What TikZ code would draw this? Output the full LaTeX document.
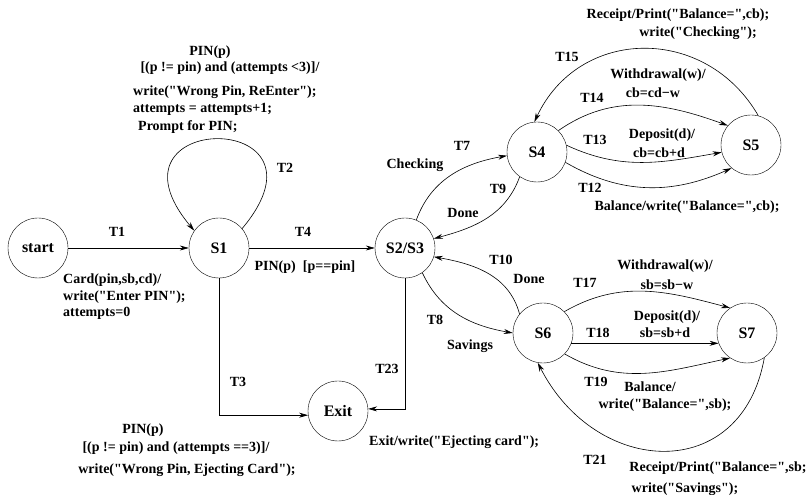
\documentclass[tikz,border=0pt]{standalone}
\usepackage{fontspec}
\setmainfont{Liberation Serif}[Ligatures=TeXOff]
\usetikzlibrary{arrows.meta}

\begin{document}
\begin{tikzpicture}[x=1pt,y=1pt,
	state/.style={draw,circle,minimum size=60pt,inner sep=0pt,font=\fontsize{16}{18}\selectfont\bfseries},
	lbl/.style={inner sep=0pt,font=\fontsize{14}{16.5}\selectfont\bfseries},
	trans/.style={line width=0.6pt,-{Stealth[length=9pt,width=5pt]}}]
	\useasboundingbox (0,0) rectangle (811,495);

	\node[state] (start) at (38,247) {start};
	\node[state] (S1) at (219,247) {S1};
	\node[state] (S23) at (405,247) {S2/S3};
	\node[state] (S4) at (537,343) {S4};
	\node[state] (S5) at (751,350) {S5};
	\node[state] (S6) at (543,162) {S6};
	\node[state] (S7) at (747,162) {S7};
	\node[state] (Exit) at (338,84) {Exit};

	\draw[trans] (start) -- (S1);
	\draw[trans] (S1.40) to[out=50,in=130,looseness=8.4] (S1.145);
	\draw[trans] (S1) -- (S23);
	\draw[trans] (S1) |- (Exit.188);
	\draw[trans] (S23) |- (Exit.4);

	\draw[trans] (S23.68) to[out=70,in=190] (S4.187);
	\draw[trans] (S4.235) to[out=250,in=15] (S23.18);
	\draw[trans] (S4.45) to[out=35,in=160] (S5.140);
	\draw[trans] (S4.13) to[out=-25,in=190] (S5.194);
	\draw[trans] (S4.-20) to[out=-30,in=204] (S5.230);
	\draw[trans] (S5.76) to[out=120,in=65,looseness=1.2] (S4.95);

	\draw[trans] (S6.141) to[out=105,in=-10] (S23.-17);
	\draw[trans] (S23.-55) to[out=-65,in=170] (S6.180);
	\draw[trans] (S6.45) to[out=30,in=165] (S7.124);
	\draw[trans] (S6.-20) -- (S7.200);
	\draw[trans] (S6.-44) to[out=-30,in=192] (S7.236);
	\draw[trans] (S7.-55) to[out=-100,in=-63,looseness=1.45] (S6.260);

	% start / S1 / exit labels
	\node[lbl] (t1) at (117,263) {T1};
	\node[lbl,anchor=west,align=left] (t1txt) at (63,198) {Card(pin,sb,cd)/\\write("Enter PIN");\\attempts=0};
	\node[lbl] (t2) at (285,327) {T2};
	\node[lbl] (t2a) at (210,443) {PIN(p)};
	\node[lbl] (t2b) at (230,427) {[(p != pin) and (attempts <3)]/};
	\node[lbl,anchor=west] (t2c) at (133,403) {write("Wrong Pin, ReEnter");};
	\node[lbl,anchor=west] (t2d) at (133,386) {attempts = attempts+1;};
	\node[lbl,anchor=west] (t2e) at (138,368) {Prompt for PIN;};
	\node[lbl] (t4) at (303,263) {T4};
	\node[lbl] (t4txt) at (305,228) {PIN(p)\ \ [p==pin]};
	\node[lbl] (t3) at (238,113) {T3};
	\node[lbl] (t3a) at (143,65) {PIN(p)};
	\node[lbl] (t3b) at (176,47) {[(p != pin) and (attempts ==3)]/};
	\node[lbl] (t3c) at (187,25) {write("Wrong Pin, Ejecting Card");};
	\node[lbl] (t23) at (387,126) {T23};
	\node[lbl,anchor=west] (exittxt) at (369,53) {Exit/write("Ejecting card");};

	% checking side
	\node[lbl] (t7) at (462,349) {T7};
	\node[lbl] (t7txt) at (415,330) {Checking};
	\node[lbl] (t9) at (498,306) {T9};
	\node[lbl] (t9txt) at (463,282) {Done};
	\node[lbl] (t14) at (592,397) {T14};
	\node[lbl] (t14a) at (658,420) {Withdrawal(w)/};
	\node[lbl] (t14b) at (653,402) {cb=cd−w};
	\node[lbl] (t13) at (595,355) {T13};
	\node[lbl] (t13a) at (662,360) {Deposit(d)/};
	\node[lbl] (t13b) at (659,342) {cb=cb+d};
	\node[lbl] (t12) at (590,307) {T12};
	\node[lbl] (t12txt) at (687,288) {Balance/write("Balance=",cb);};
	\node[lbl] (t15) at (567,438) {T15};
	\node[lbl] (t15a) at (678,480) {Receipt/Print("Balance=",cb);};
	\node[lbl] (t15b) at (698,462) {write("Checking");};

	% savings side
	\node[lbl] (t10) at (501,235) {T10};
	\node[lbl] (t10txt) at (529,216) {Done};
	\node[lbl] (t8) at (435,175) {T8};
	\node[lbl] (t8txt) at (470,149) {Savings};
	\node[lbl] (t17) at (585,212) {T17};
	\node[lbl] (t17a) at (665,229) {Withdrawal(w)/};
	\node[lbl] (t17b) at (667,210) {sb=sb−w};
	\node[lbl] (t18) at (598,162) {T18};
	\node[lbl] (t18a) at (667,178) {Deposit(d)/};
	\node[lbl] (t18b) at (665,162) {sb=sb+d};
	\node[lbl] (t19) at (596,113) {T19};
	\node[lbl] (t19a) at (650,108) {Balance/};
	\node[lbl] (t19b) at (665,90) {write("Balance=",sb);};
	\node[lbl] (t21) at (595,35) {T21};
	\node[lbl] (t21a) at (718,27) {Receipt/Print("Balance=",sb;};
	\node[lbl] (t21b) at (685,6) {write("Savings");};
\end{tikzpicture}
\end{document}
